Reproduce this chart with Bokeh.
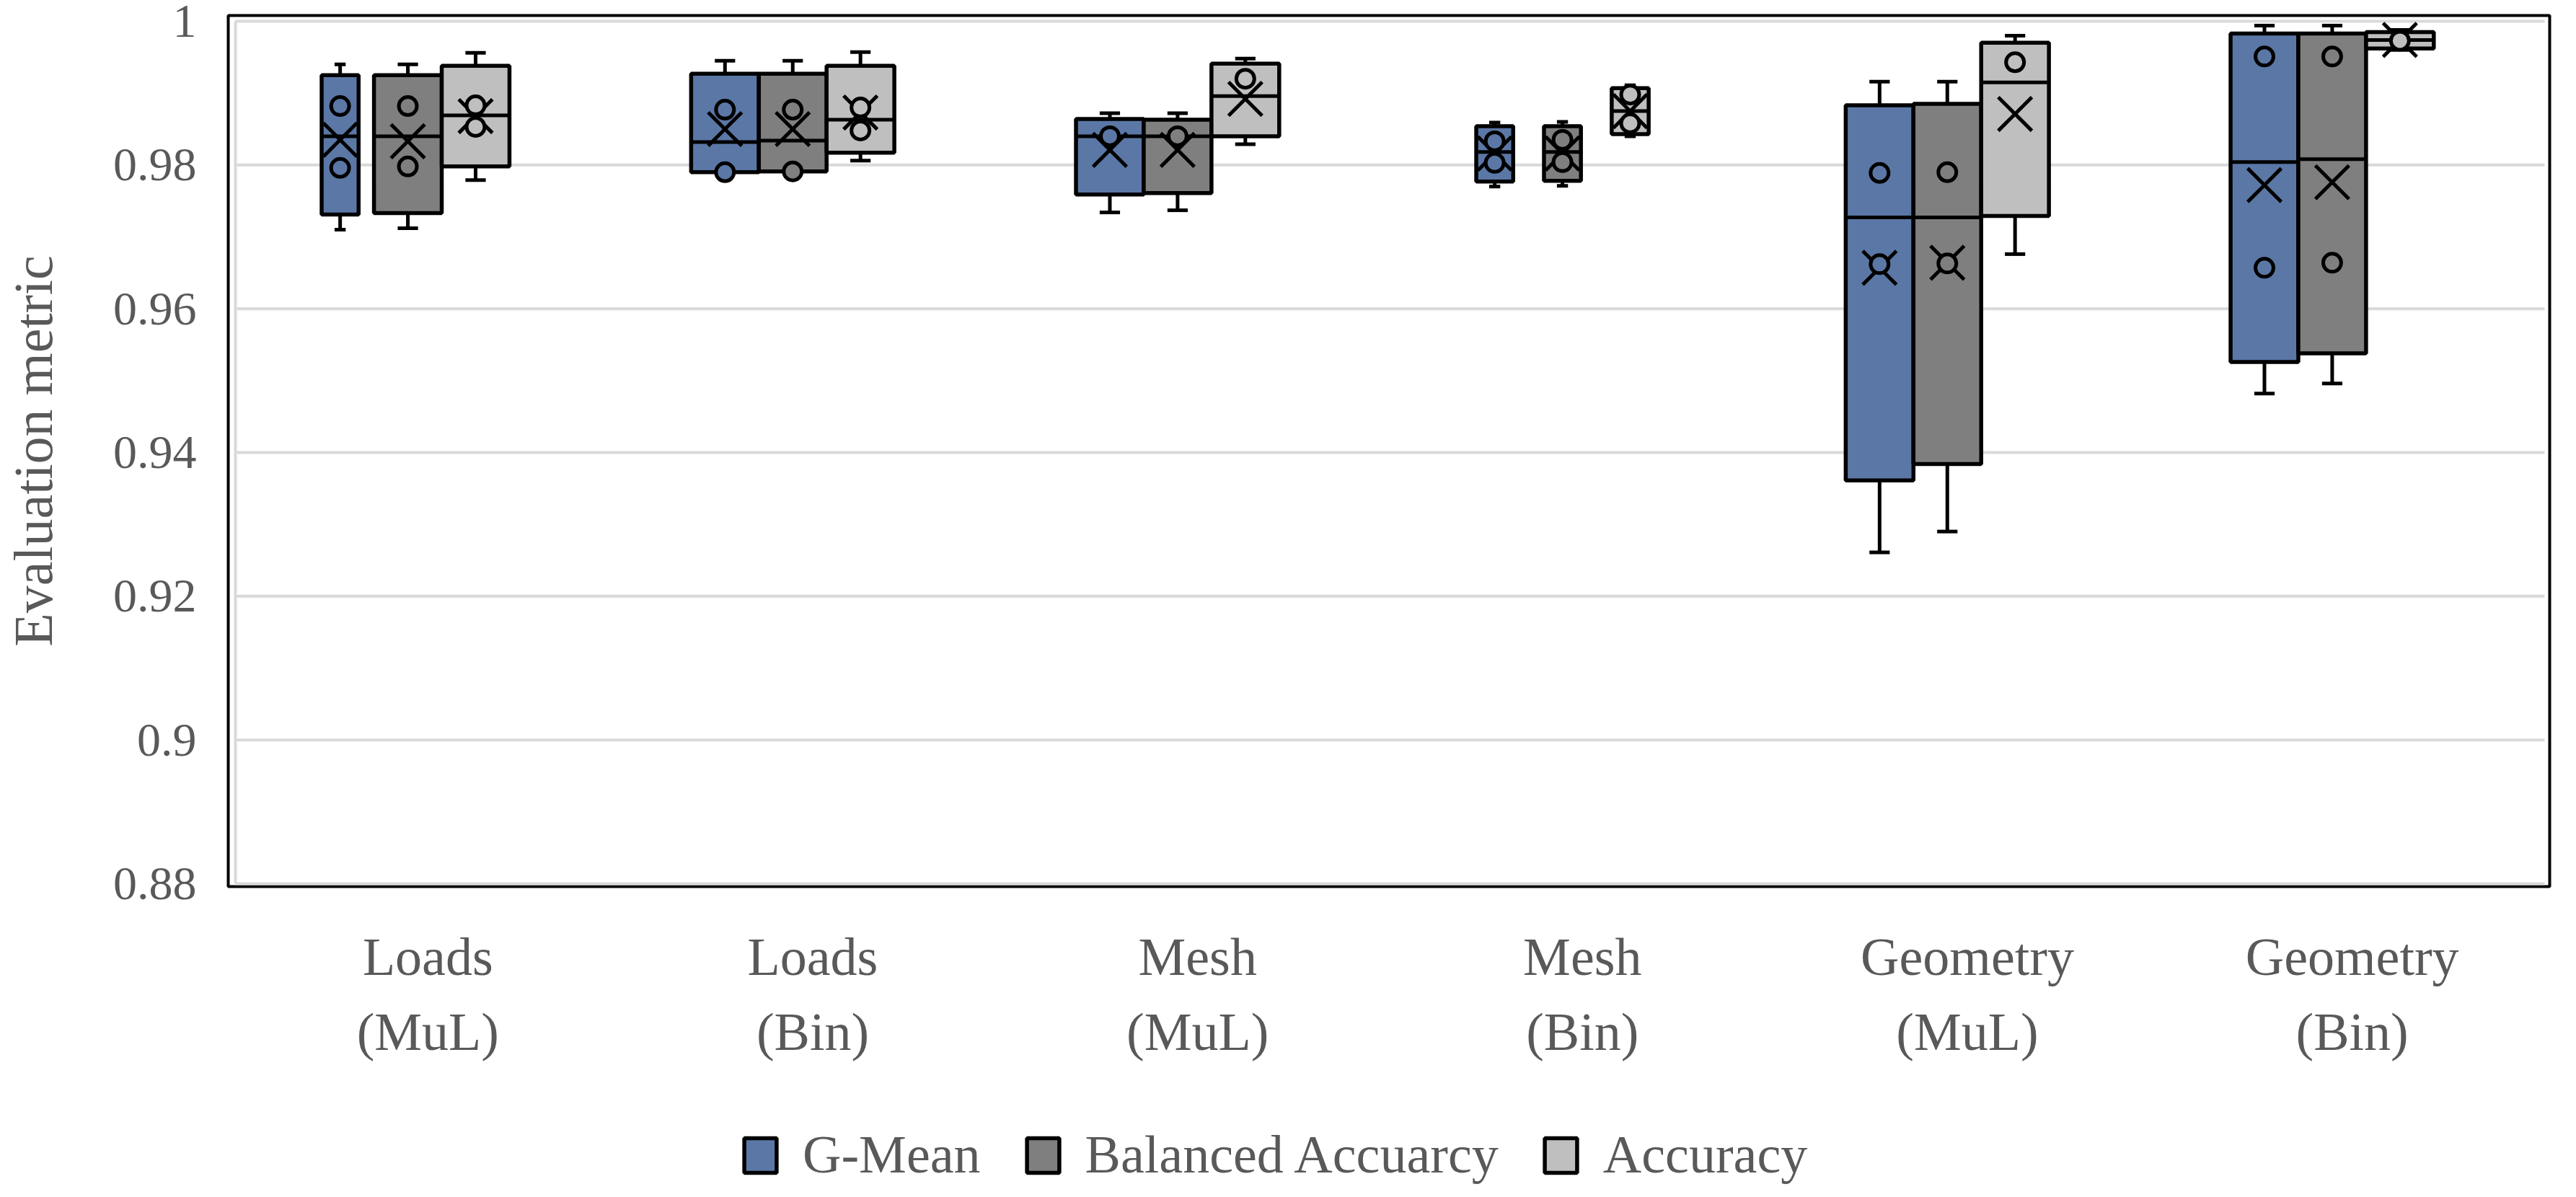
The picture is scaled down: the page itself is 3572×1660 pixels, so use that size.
from bokeh.plotting import figure
from bokeh.layouts import column
from bokeh.models import FixedTicker, Legend, LegendItem, ColumnDataSource, Range1d
from bokeh.embed import file_html
from bokeh.resources import INLINE

# ---------------- data ----------------
CATEGORIES = ["Loads\n(MuL)", "Loads\n(Bin)", "Mesh\n(MuL)", "Mesh\n(Bin)",
              "Geometry\n(MuL)", "Geometry\n(Bin)"]
SERIES = ["G-Mean", "Balanced Accuarcy", "Accuracy"]
Y_TICKS = [0.88, 0.90, 0.92, 0.94, 0.96, 0.98, 1.0]
Y_TICK_LABELS = ["0.88", "0.9", "0.92", "0.94", "0.96", "0.98", "1"]

GMEAN_MAX = [0.9940, 0.9945, 0.9872, 0.9859, 0.9916, 0.9994]
GMEAN_Q3 = [0.9925, 0.9927, 0.9864, 0.9854, 0.9883, 0.9983]
GMEAN_MED = [0.9840, 0.9832, 0.9840, 0.9818, 0.9727, 0.9804]
GMEAN_Q1 = [0.9731, 0.9790, 0.9759, 0.9777, 0.9361, 0.9526]
GMEAN_MIN = [0.9710, 0.9790, 0.9734, 0.9770, 0.9261, 0.9482]
GMEAN_MEAN = [0.9835, 0.9850, 0.9821, 0.9816, 0.9657, 0.9772]
GMEAN_POINTS = [[0.9882, 0.9796], [0.9877, 0.9790], [0.9840],
                [0.9833, 0.9803], [0.9789, 0.9662], [0.9951, 0.9657]]

BACC_MAX = [0.9940, 0.9945, 0.9872, 0.9860, 0.9916, 0.9994]
BACC_Q3 = [0.9925, 0.9927, 0.9863, 0.9854, 0.9885, 0.9983]
BACC_MED = [0.9840, 0.9834, 0.9840, 0.9818, 0.9727, 0.9808]
BACC_Q1 = [0.9733, 0.9791, 0.9761, 0.9778, 0.9384, 0.9538]
BACC_MIN = [0.9712, 0.9791, 0.9737, 0.9771, 0.9290, 0.9496]
BACC_MEAN = [0.9833, 0.9850, 0.9821, 0.9816, 0.9664, 0.9776]
BACC_POINTS = [[0.9882, 0.9798], [0.9877, 0.9791], [0.9840],
               [0.9835, 0.9804], [0.9790, 0.9663], [0.9951, 0.9664]]

ACC_MAX = [0.9956, 0.9957, 0.9948, 0.9911, 0.9980, 0.9988]
ACC_Q3 = [0.9938, 0.9938, 0.9941, 0.9907, 0.9970, 0.9985]
ACC_MED = [0.9869, 0.9863, 0.9896, 0.9875, 0.9915, 0.9974]
ACC_Q1 = [0.9798, 0.9817, 0.9840, 0.9843, 0.9729, 0.9962]
ACC_MIN = [0.9779, 0.9806, 0.9829, 0.9840, 0.9676, 0.9960]
ACC_MEAN = [0.9868, 0.9873, 0.9892, 0.9875, 0.9871, 0.9974]
ACC_POINTS = [[0.9883, 0.9853], [0.9880, 0.9848], [0.9920],
              [0.9898, 0.9858], [0.9943], [0.9973]]

STATS = [
    (GMEAN_MAX, GMEAN_Q3, GMEAN_MED, GMEAN_Q1, GMEAN_MIN, GMEAN_MEAN, GMEAN_POINTS),
    (BACC_MAX, BACC_Q3, BACC_MED, BACC_Q1, BACC_MIN, BACC_MEAN, BACC_POINTS),
    (ACC_MAX, ACC_Q3, ACC_MED, ACC_Q1, ACC_MIN, ACC_MEAN, ACC_POINTS),
]

# ---------------- layout / style ----------------
COLORS = ["#5b77a6", "#7f7f7f", "#bfbfbf"]
OFFSETS = [-0.228, -0.052, 0.124]
FULL_W = 0.176
NARROW_W = 0.096
BOX_WIDTHS = [
    [NARROW_W, FULL_W, FULL_W, NARROW_W, FULL_W, FULL_W],
    [FULL_W, FULL_W, FULL_W, NARROW_W, FULL_W, FULL_W],
    [FULL_W, FULL_W, FULL_W, NARROW_W, FULL_W, FULL_W],
]
FONT = "Liberation Serif"
TXT = "#595959"
LW = 5
BOX_LW = 5.5

W = 3556
H_MAIN = 1500
H_LEG = 144

main = figure(width=W, height=H_MAIN, output_backend="svg", toolbar_location=None,
              x_range=Range1d(-0.5187, 5.5131), y_range=Range1d(0.8796, 1.0008),
              min_border_left=310, min_border_right=21, min_border_top=21,
              min_border_bottom=H_MAIN - 1229)
main.outline_line_color = "black"
main.outline_line_width = 4
main.xgrid.visible = False
main.ygrid.visible = False

# gridlines and grey left axis line
main.segment(x0=[-0.5] * len(Y_TICKS), x1=[5.5] * len(Y_TICKS), y0=Y_TICKS, y1=Y_TICKS,
             line_color="#d9d9d9", line_width=4)
main.segment(x0=[-0.5], x1=[-0.5], y0=[Y_TICKS[0]], y1=[Y_TICKS[-1]],
             line_color="#d9d9d9", line_width=4)

n = len(CATEGORIES)
box_sources = []
for s, (mx, q3, med, q1, mn, mean, pts) in enumerate(STATS):
    xc = [i + OFFSETS[s] for i in range(n)]
    w = BOX_WIDTHS[s]
    left = [x - ww / 2 for x, ww in zip(xc, w)]
    right = [x + ww / 2 for x, ww in zip(xc, w)]
    capl = [x - ww * 0.15 for x, ww in zip(xc, w)]
    capr = [x + ww * 0.15 for x, ww in zip(xc, w)]
    src = ColumnDataSource(dict(xc=xc, left=left, right=right, capl=capl, capr=capr,
                                mx=mx, q3=q3, med=med, q1=q1, mn=mn, mean=mean))
    box_sources.append(src)
    main.segment("xc", "q3", "xc", "mx", source=src, line_color="black", line_width=LW)
    main.segment("xc", "q1", "xc", "mn", source=src, line_color="black", line_width=LW)
    main.segment("capl", "mx", "capr", "mx", source=src, line_color="black",
                 line_width=LW)
    main.segment("capl", "mn", "capr", "mn", source=src, line_color="black",
                 line_width=LW)
    main.quad(left="left", right="right", top="q3", bottom="q1", source=src,
              fill_color=COLORS[s], line_color="black", line_width=BOX_LW)
    main.segment("left", "med", "right", "med", source=src, line_color="black",
                 line_width=LW)
    main.scatter("xc", "mean", source=src, marker="x", size=66, line_color="black",
                 line_width=LW)
    px = [xc[i] for i in range(n) for _ in pts[i]]
    py = [v for i in range(n) for v in pts[i]]
    main.scatter(px, py, marker="circle", size=25, fill_color=COLORS[s],
                 line_color="black", line_width=LW)

# y axis
ya = main.yaxis[0]
ya.ticker = FixedTicker(ticks=Y_TICKS)
ya.major_label_overrides = dict(zip(Y_TICKS, Y_TICK_LABELS))
ya.axis_line_color = None
ya.major_tick_line_color = None
ya.minor_tick_line_color = None
ya.major_tick_out = 0
ya.major_tick_in = 0
ya.major_label_standoff = 44
ya.major_label_text_font = FONT
ya.major_label_text_font_size = "66px"
ya.major_label_text_color = TXT
ya.axis_label = "Evaluation metric"
ya.axis_label_text_font = FONT
ya.axis_label_text_font_size = "76px"
ya.axis_label_text_font_style = "normal"
ya.axis_label_text_color = TXT
ya.axis_label_standoff = 66

# x axis
xa = main.xaxis[0]
xa.ticker = FixedTicker(ticks=list(range(n)))
xa.major_label_overrides = {i: CATEGORIES[i] for i in range(n)}
xa.axis_line_color = None
xa.major_tick_line_color = None
xa.minor_tick_line_color = None
xa.major_tick_out = 0
xa.major_tick_in = 0
xa.major_label_standoff = 56
xa.major_label_text_font = FONT
xa.major_label_text_font_size = "74px"
xa.major_label_text_color = TXT
xa.major_label_text_line_height = 1.28

# ---------------- legend strip (its frame aligns with the main frame) ----------------
leg = figure(width=W, height=H_LEG, output_backend="svg", toolbar_location=None,
             x_range=Range1d(20, 21), y_range=Range1d(20, 21),
             x_axis_type=None, y_axis_type=None, min_border=0)
leg.outline_line_color = None
leg.grid.visible = False
items = []
for s in range(len(SERIES)):
    # legend proxies share the box data; this strip's ranges keep them off-screen
    r = leg.quad(left="left", right="right", top="q3", bottom="q1",
                 source=box_sources[s], fill_color=COLORS[s],
                 line_color="black", line_width=BOX_LW)
    items.append(LegendItem(label=SERIES[s], renderers=[r]))
legend = Legend(items=items, location=(710, 0), orientation="horizontal",
                glyph_width=56, glyph_height=60, label_height=60, label_standoff=31,
                spacing=58, padding=0, margin=0, border_line_color=None,
                background_fill_alpha=0, label_text_font=FONT,
                label_text_font_size="74px", label_text_color=TXT)
leg.add_layout(legend, "center")

p = column(main, leg, spacing=0)
open("out.html", "w").write(file_html(p, INLINE))
